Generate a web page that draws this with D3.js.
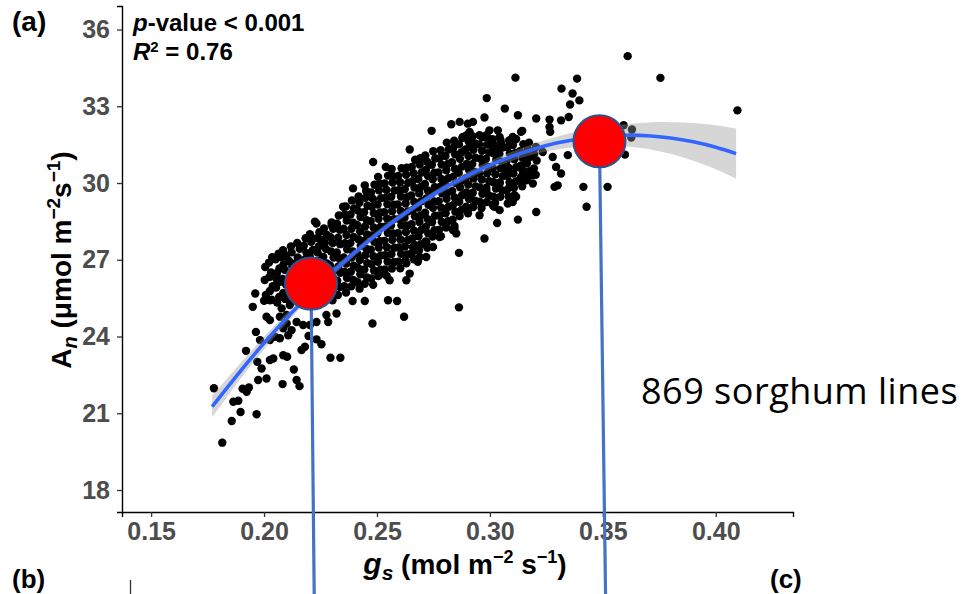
<!DOCTYPE html>
<html>
<head>
<meta charset="utf-8">
<script src="https://cdn.jsdelivr.net/npm/d3@7"></script>
<style>
  html, body { margin: 0; padding: 0; background: #ffffff; }
  svg { display: block; }
</style>
</head>
<body>
<svg id="chart" width="966" height="594"></svg>
<script>
// Axis ticks
const xTicks = [0.15, 0.20, 0.25, 0.30, 0.35, 0.40];
const yTicks = [18, 21, 24, 27, 30, 33, 36];

// Quadratic fit (gs -> An) and half-width of its confidence band
const fitGs  = [0.177, 0.19, 0.20, 0.21, 0.22, 0.23, 0.24, 0.25, 0.26, 0.27, 0.28, 0.29, 0.30, 0.31, 0.32, 0.33, 0.34, 0.35, 0.36, 0.37, 0.38, 0.39, 0.40, 0.409];
const fitAn  = [21.26, 22.70, 23.74, 24.72, 25.63, 26.49, 27.27, 28.00, 28.67, 29.27, 29.81, 30.29, 30.70, 31.05, 31.34, 31.57, 31.73, 31.83, 31.87, 31.85, 31.76, 31.61, 31.40, 31.15];
const ciHalf = [0.42, 0.30, 0.25, 0.20, 0.17, 0.15, 0.13, 0.12, 0.12, 0.12, 0.13, 0.14, 0.16, 0.18, 0.21, 0.25, 0.30, 0.36, 0.43, 0.52, 0.62, 0.74, 0.86, 0.98];

// Sorghum lines: [gs, An] — scattered lines around the cloud
const edgeLines = [
[0.1815,19.85],[0.1857,20.70],[0.1896,21.05],[0.1967,20.96],[0.1864,21.45],[0.1886,21.49],[0.1778,21.98],[0.1905,21.96],
[0.1933,22.01],[0.1923,21.84],[0.1974,22.30],[0.2011,22.36],[0.2082,22.14],[0.2144,22.30],[0.2157,22.06],[0.2132,22.71],
[0.1920,23.44],[0.1964,24.18],[0.1982,23.86],[0.1970,23.01],[0.1989,22.75],[0.2026,23.08],[0.2041,23.14],[0.2085,23.27],
[0.2102,23.21],[0.2166,23.47],[0.2181,23.60],[0.2294,23.17],[0.2338,23.17],[0.2254,23.70],[0.2232,23.89],[0.2197,24.02],
[0.2026,23.86],[0.2048,23.99],[0.2070,23.93],[0.2107,24.05],[0.2122,24.25],[0.2085,24.32],[0.2100,24.51],[0.2026,24.64],
[0.2011,24.77],[0.2070,24.77],[0.2100,24.84],[0.2144,24.57],[0.2173,24.45],[0.2203,24.45],[0.2232,24.57],[0.2284,24.57],
[0.2321,24.90],[0.2276,24.84],[0.2480,24.51],[0.2620,24.77],[0.2549,25.42],[0.2589,25.39],[0.2392,25.39],[0.2446,25.39],
[0.1950,25.16],[0.1961,25.68],[0.2026,25.42],[0.2078,25.10],[0.2114,25.23],[0.2056,26.46],[0.2078,27.09],[0.2070,26.14],
[0.2056,26.23],[0.2203,28.00],[0.2232,28.42],[0.2254,27.77],[0.2299,28.35],[0.2350,29.07],[0.2394,29.79],[0.2446,29.91],
[0.2483,30.82],[0.2539,30.63],[0.2645,31.31],[0.2742,32.04],[0.2829,32.30],[0.2866,32.39],[0.2925,32.39],[0.2880,31.80],
[0.2910,31.41],[0.2863,27.27],[0.2863,25.14],[0.2836,28.16],[0.2851,28.03],[0.2925,29.07],[0.2910,29.39],[0.2748,27.50],
[0.2719,27.70],[0.2689,27.11],[0.2659,27.50],[0.2630,26.20],[0.2645,26.46],[0.2225,28.49],[0.2976,27.83],[0.3124,28.57],
[0.3032,28.44],[0.2954,28.74],[0.3205,28.87],[0.3043,28.94],[0.3013,29.13],[0.3101,29.26],[0.2843,28.22],[0.2777,27.89],
[0.2718,27.11],[0.2630,26.86],[0.2681,26.92],[0.2556,26.20],[0.2527,26.46],[0.2984,29.72],[0.3043,29.98],[0.3131,30.11],
[0.3175,30.37],[0.3190,29.98],[0.3072,30.50],[0.3116,29.46],[0.3057,30.76],[0.3013,31.28],[0.3101,31.80],[0.3043,31.80],
[0.2984,31.87],[0.3138,32.00],[0.3113,34.12],[0.3386,34.08],[0.3317,33.69],[0.3366,33.50],[0.3396,33.23],[0.3355,33.07],
[0.2986,33.32],[0.3066,32.91],[0.3124,32.65],[0.3205,32.52],[0.3264,32.48],[0.3264,32.19],[0.3267,32.00],[0.3315,32.45],
[0.3349,32.58],[0.3143,32.04],[0.2976,32.56],[0.2902,32.32],[0.2910,32.00],[0.2954,31.87],[0.2998,32.06],[0.3035,32.06],
[0.3050,31.54],[0.3043,31.35],[0.2998,31.54],[0.3161,31.09],[0.3234,31.21],[0.3278,31.02],[0.3293,30.63],[0.3315,30.37],
[0.3345,31.09],[0.3145,30.50],[0.3190,30.31],[0.3161,30.11],[0.3109,29.52],[0.3087,29.85],[0.3286,29.85],[0.3300,29.91],
[0.3414,29.85],[0.3521,29.85],[0.3428,29.07],[0.3020,29.07],[0.3610,34.96],[0.3755,34.11],[0.4096,32.84],[0.3592,32.26],
[0.3629,32.09],[0.3626,31.78],[0.3598,31.11],[0.3138,30.24],[0.3183,30.43],[0.3079,29.20]
];

// Sorghum lines: [gs, An] — dense centre of the cloud
const coreLines = [
[0.2000,25.40],[0.2008,25.62],[0.2003,26.21],[0.2005,26.72],
[0.2034,25.44],[0.2026,25.78],[0.2038,25.97],[0.2024,26.33],[0.2031,26.50],[0.2022,26.89],[0.2036,27.10],
[0.2058,25.33],[0.2067,25.55],[0.2053,25.91],[0.2062,26.12],[0.2055,26.47],[0.2068,26.66],[0.2051,27.02],[0.2064,27.24],
[0.2093,25.47],[0.2085,25.70],[0.2097,26.04],[0.2082,26.25],[0.2091,26.61],[0.2086,26.81],[0.2098,27.15],[0.2084,27.37],
[0.2116,25.29],[0.2124,25.62],[0.2113,25.84],[0.2127,26.18],[0.2118,26.40],[0.2125,26.74],[0.2111,26.95],[0.2122,27.29],[0.2119,27.52],
[0.2152,25.42],[0.2144,25.76],[0.2157,25.98],[0.2146,26.31],[0.2155,26.54],[0.2141,26.87],[0.2149,27.09],[0.2158,27.43],[0.2147,27.66],
[0.2183,25.34],[0.2174,25.57],[0.2186,25.88],[0.2177,26.16],[0.2185,26.45],[0.2172,26.69],[0.2181,27.01],[0.2188,27.27],[0.2176,27.55],[0.2184,27.84],
[0.2206,25.46],[0.2215,25.71],[0.2203,26.02],[0.2217,26.26],[0.2208,26.59],[0.2213,26.83],[0.2202,27.14],[0.2216,27.38],[0.2209,27.70],[0.2204,27.93],
[0.2242,25.31],[0.2235,25.60],[0.2247,25.85],[0.2238,26.17],[0.2244,26.41],[0.2233,26.73],[0.2246,26.96],[0.2237,27.28],[0.2243,27.53],[0.2236,27.85],[0.2245,28.08],
[0.2268,25.45],[0.2276,25.74],[0.2264,25.99],[0.2273,26.30],[0.2266,26.55],[0.2278,26.86],[0.2262,27.11],[0.2274,27.42],[0.2269,27.66],[0.2277,27.98],[0.2265,28.22],
[0.2303,25.42],[0.2295,25.66],[0.2307,25.97],[0.2298,26.22],[0.2305,26.53],[0.2292,26.78],[0.2308,27.09],[0.2296,27.33],[0.2304,27.65],[0.2293,27.89],[0.2306,28.21],[0.2299,28.46],
[0.2327,25.62],[0.2336,25.93],[0.2324,26.18],[0.2338,26.49],[0.2329,26.74],[0.2334,27.05],[0.2322,27.29],[0.2337,27.61],[0.2328,27.86],[0.2335,28.17],[0.2323,28.41],[0.2331,28.73],
[0.2363,25.72],[0.2355,25.97],[0.2367,26.29],[0.2356,26.53],[0.2364,26.85],[0.2353,27.09],[0.2368,27.41],[0.2358,27.65],[0.2365,27.97],[0.2352,28.21],[0.2366,28.53],[0.2357,28.77],[0.2362,29.08],
[0.2386,25.96],[0.2395,26.21],[0.2384,26.53],[0.2397,26.77],[0.2388,27.09],[0.2393,27.33],[0.2382,27.65],[0.2396,27.89],[0.2387,28.21],[0.2394,28.45],[0.2383,28.77],[0.2398,29.01],[0.2389,29.32],
[0.2423,25.87],[0.2414,26.12],[0.2426,26.43],[0.2417,26.68],[0.2424,26.99],[0.2413,27.24],[0.2428,27.55],[0.2418,27.80],[0.2425,28.11],[0.2412,28.36],[0.2427,28.67],[0.2416,28.92],[0.2422,29.23],[0.2419,29.48],
[0.2446,26.06],[0.2455,26.31],[0.2444,26.62],[0.2457,26.87],[0.2448,27.18],[0.2453,27.43],[0.2442,27.74],[0.2456,27.99],[0.2447,28.30],[0.2454,28.55],[0.2443,28.86],[0.2458,29.11],[0.2449,29.42],[0.2452,29.69],
[0.2483,26.02],[0.2475,26.27],[0.2487,26.58],[0.2476,26.83],[0.2484,27.14],[0.2473,27.39],[0.2488,27.70],[0.2478,27.95],[0.2485,28.26],[0.2472,28.51],[0.2486,28.82],[0.2477,29.07],[0.2482,29.38],[0.2474,29.63],[0.2489,29.93],
[0.2506,26.36],[0.2515,26.61],[0.2504,26.92],[0.2517,27.17],[0.2508,27.48],[0.2513,27.73],[0.2502,28.04],[0.2516,28.29],[0.2507,28.60],[0.2514,28.85],[0.2503,29.16],[0.2518,29.41],[0.2509,29.72],[0.2512,29.97],[0.2505,30.24],
[0.2543,26.37],[0.2535,26.62],[0.2547,26.93],[0.2536,27.18],[0.2544,27.49],[0.2533,27.74],[0.2548,28.05],[0.2538,28.30],[0.2545,28.61],[0.2532,28.86],[0.2546,29.17],[0.2537,29.42],[0.2542,29.73],[0.2534,29.98],[0.2549,30.29],
[0.2566,26.66],[0.2575,26.91],[0.2564,27.22],[0.2577,27.47],[0.2568,27.78],[0.2573,28.03],[0.2562,28.34],[0.2576,28.59],[0.2567,28.90],[0.2574,29.15],[0.2563,29.46],[0.2578,29.71],[0.2569,30.02],[0.2572,30.27],[0.2565,30.55],
[0.2603,26.67],[0.2595,26.92],[0.2607,27.23],[0.2596,27.48],[0.2604,27.79],[0.2593,28.04],[0.2608,28.35],[0.2598,28.60],[0.2605,28.91],[0.2592,29.16],[0.2606,29.47],[0.2597,29.72],[0.2602,30.03],[0.2594,30.28],[0.2609,30.58],
[0.2626,26.96],[0.2635,27.21],[0.2624,27.52],[0.2637,27.77],[0.2628,28.08],[0.2633,28.33],[0.2622,28.64],[0.2636,28.89],[0.2627,29.20],[0.2634,29.45],[0.2623,29.76],[0.2638,30.01],[0.2629,30.32],[0.2632,30.60],
[0.2663,27.02],[0.2655,27.27],[0.2667,27.58],[0.2656,27.83],[0.2664,28.14],[0.2653,28.39],[0.2668,28.70],[0.2658,28.95],[0.2665,29.26],[0.2652,29.51],[0.2666,29.82],[0.2657,30.07],[0.2662,30.38],[0.2654,30.63],[0.2669,30.91],
[0.2686,27.36],[0.2695,27.61],[0.2684,27.92],[0.2697,28.17],[0.2688,28.48],[0.2693,28.73],[0.2682,29.04],[0.2696,29.29],[0.2687,29.60],[0.2694,29.85],[0.2683,30.16],[0.2698,30.41],[0.2689,30.72],[0.2692,30.97],
[0.2723,27.47],[0.2715,27.72],[0.2727,28.03],[0.2716,28.28],[0.2724,28.59],[0.2713,28.84],[0.2728,29.15],[0.2718,29.40],[0.2725,29.71],[0.2712,29.96],[0.2726,30.27],[0.2717,30.52],[0.2722,30.83],[0.2714,31.08],
[0.2746,27.91],[0.2755,28.16],[0.2744,28.47],[0.2757,28.72],[0.2748,29.03],[0.2753,29.28],[0.2742,29.59],[0.2756,29.84],[0.2747,30.15],[0.2754,30.40],[0.2743,30.71],[0.2758,30.96],[0.2749,31.24],
[0.2783,27.92],[0.2775,28.17],[0.2787,28.48],[0.2776,28.73],[0.2784,29.04],[0.2773,29.29],[0.2788,29.60],[0.2778,29.85],[0.2785,30.16],[0.2772,30.41],[0.2786,30.72],[0.2777,30.97],[0.2782,31.28],
[0.2806,28.26],[0.2815,28.51],[0.2804,28.82],[0.2817,29.07],[0.2808,29.38],[0.2813,29.63],[0.2802,29.94],[0.2816,30.19],[0.2807,30.50],[0.2814,30.75],[0.2803,31.06],[0.2818,31.31],[0.2809,31.58],
[0.2843,28.32],[0.2835,28.57],[0.2847,28.88],[0.2836,29.13],[0.2844,29.44],[0.2833,29.69],[0.2848,30.00],[0.2838,30.25],[0.2845,30.56],[0.2832,30.81],[0.2846,31.12],[0.2837,31.37],[0.2842,31.65],
[0.2866,28.71],[0.2875,28.96],[0.2864,29.27],[0.2877,29.52],[0.2868,29.83],[0.2873,30.08],[0.2862,30.39],[0.2876,30.64],[0.2867,30.95],[0.2874,31.20],[0.2863,31.51],[0.2878,31.76],
[0.2903,28.82],[0.2895,29.07],[0.2907,29.38],[0.2896,29.63],[0.2904,29.94],[0.2893,30.19],[0.2908,30.50],[0.2898,30.75],[0.2905,31.06],[0.2892,31.31],[0.2906,31.62],[0.2897,31.87],
[0.2926,29.06],[0.2935,29.31],[0.2924,29.62],[0.2937,29.87],[0.2928,30.18],[0.2933,30.43],[0.2922,30.74],[0.2936,30.99],[0.2927,31.30],[0.2934,31.55],[0.2923,31.83],
[0.2963,29.02],[0.2955,29.27],[0.2967,29.58],[0.2956,29.83],[0.2964,30.14],[0.2953,30.39],[0.2968,30.70],[0.2958,30.95],[0.2965,31.26],[0.2952,31.51],[0.2966,31.79],
[0.2986,29.26],[0.2995,29.51],[0.2984,29.82],[0.2997,30.07],[0.2988,30.38],[0.2993,30.63],[0.2982,30.94],[0.2996,31.19],[0.2987,31.50],[0.2994,31.74],
[0.3023,29.22],[0.3015,29.47],[0.3027,29.78],[0.3016,30.03],[0.3024,30.34],[0.3013,30.59],[0.3028,30.90],[0.3018,31.15],[0.3025,31.46],[0.3012,31.71],
[0.3046,29.46],[0.3055,29.71],[0.3044,30.02],[0.3057,30.27],[0.3048,30.58],[0.3053,30.83],[0.3042,31.14],[0.3056,31.39],[0.3047,31.67],
[0.3083,29.47],[0.3075,29.72],[0.3087,30.03],[0.3076,30.28],[0.3084,30.59],[0.3073,30.84],[0.3088,31.15],[0.3078,31.40],[0.3085,31.66],
[0.3106,29.81],[0.3115,30.06],[0.3104,30.37],[0.3117,30.62],[0.3108,30.93],[0.3113,31.18],[0.3102,31.49],[0.3116,31.72],
[0.3143,29.87],[0.3135,30.12],[0.3147,30.43],[0.3136,30.68],[0.3144,30.99],[0.3133,31.24],[0.3148,31.52],
[0.3166,30.21],[0.3175,30.46],[0.3164,30.77],[0.3177,31.02],[0.3168,31.33],[0.3173,31.58],
[0.3203,30.32],[0.3195,30.57],[0.3207,30.88],[0.3196,31.13],[0.3204,31.41]
];

// Highlighted lines (red markers) and where their drop lines end
const highlightGs = [0.2208, 0.3485];
const highlightAn = [26.07, 31.63];
const dropFootGs  = [0.2222, 0.3512];

const svg = d3.select("#chart");
const W = 966, H = 594;

const x = d3.scaleLinear().domain([0.1371, 0.4342]).range([122, 793]);
const y = d3.scaleLinear().domain([17.14, 36.92]).range([512, 6]);

const FONT = "'Liberation Sans', Arial, Helvetica, sans-serif";

// ---- points ----
const allLines = edgeLines.concat(coreLines);
svg.append("g")
  .selectAll("circle")
  .data(allLines)
  .join("circle")
  .attr("cx", d => x(d[0]))
  .attr("cy", d => y(d[1]))
  .attr("r", 4.2)
  .attr("fill", "#000000");

// ---- confidence band + fitted curve ----
const fit = fitGs.map((g, i) => ({ g, a: fitAn[i], h: ciHalf[i] }));
svg.append("path")
  .datum(fit)
  .attr("d", d3.area()
    .x(d => x(d.g))
    .y0(d => y(d.a - d.h))
    .y1(d => y(d.a + d.h))
    .curve(d3.curveNatural))
  .attr("fill", "#999999")
  .attr("fill-opacity", 0.4);

svg.append("path")
  .datum(fit)
  .attr("d", d3.line()
    .x(d => x(d.g))
    .y(d => y(d.a))
    .curve(d3.curveNatural))
  .attr("fill", "none")
  .attr("stroke", "#3366FF")
  .attr("stroke-width", 3.6);

// ---- axes ----
const xAxis = d3.axisBottom(x).tickValues(xTicks).tickFormat(d3.format(".2f")).tickSizeOuter(0).tickSize(5).tickPadding(5);
const yAxis = d3.axisLeft(y).tickValues(yTicks).tickFormat(d3.format("d")).tickSizeOuter(0).tickSize(5).tickPadding(7);

const gx = svg.append("g").attr("transform", "translate(0,512)").call(xAxis);
const gy = svg.append("g").attr("transform", "translate(122,0)").call(yAxis);

[gx, gy].forEach(g => {
  g.select(".domain").attr("stroke", "#000").attr("stroke-width", 1.4);
  g.selectAll(".tick line").attr("stroke", "#333").attr("stroke-width", 1.3);
  g.selectAll(".tick text")
    .attr("fill", "#4D4D4D")
    .attr("font-family", FONT)
    .attr("font-weight", "bold")
    .attr("font-size", 25);
});

// ---- axis titles ----
const yTitle = svg.append("text")
  .attr("transform", "translate(71,260) rotate(-90)")
  .attr("text-anchor", "middle")
  .attr("font-family", FONT)
  .attr("font-weight", "bold")
  .attr("font-size", 28)
  .attr("fill", "#000");
yTitle.append("tspan").text("A");
yTitle.append("tspan").attr("font-style", "italic").attr("font-size", 20).attr("dy", 6).text("n");
yTitle.append("tspan").attr("dy", -6).text(" (μmol m");
yTitle.append("tspan").attr("font-size", 19).attr("dy", -11).text("−2");
yTitle.append("tspan").attr("dy", 11).text("s");
yTitle.append("tspan").attr("font-size", 19).attr("dy", -11).text("−1");
yTitle.append("tspan").attr("dy", 11).text(")");

const xTitle = svg.append("text")
  .attr("x", 465).attr("y", 574)
  .attr("text-anchor", "middle")
  .attr("font-family", FONT)
  .attr("font-weight", "bold")
  .attr("font-size", 28)
  .attr("fill", "#000");
xTitle.append("tspan").attr("font-style", "italic").attr("font-size", 30).text("g");
xTitle.append("tspan").attr("font-style", "italic").attr("font-size", 21).attr("dy", 6).text("s");
xTitle.append("tspan").attr("dy", -6).text(" (mol m");
xTitle.append("tspan").attr("font-size", 18).attr("dy", -11).text("−2");
xTitle.append("tspan").attr("dy", 11).text(" s");
xTitle.append("tspan").attr("font-size", 18).attr("dy", -11).text("−1");
xTitle.append("tspan").attr("dy", 11).text(")");

// ---- statistics ----
const stat1 = svg.append("text").attr("x", 133).attr("y", 31)
  .attr("font-family", FONT).attr("font-weight", "bold").attr("font-size", 24).attr("fill", "#000");
stat1.append("tspan").attr("font-style", "italic").text("p");
stat1.append("tspan").text("-value < 0.001");

const stat2 = svg.append("text").attr("x", 133).attr("y", 60)
  .attr("font-family", FONT).attr("font-weight", "bold").attr("font-size", 24).attr("fill", "#000");
stat2.append("tspan").attr("font-style", "italic").text("R");
stat2.append("tspan").attr("font-size", 15).attr("dy", -8).text("2");
stat2.append("tspan").attr("dy", 8).text(" = 0.76");

// ---- panel tags ----
svg.append("text").attr("x", 12).attr("y", 31)
  .attr("font-family", FONT).attr("font-weight", "bold").attr("font-size", 28).attr("fill", "#000").text("(a)");
svg.append("text").attr("x", 12).attr("y", 588)
  .attr("font-family", FONT).attr("font-weight", "bold").attr("font-size", 26).attr("fill", "#000").text("(b)");
svg.append("text").attr("x", 770).attr("y", 588)
  .attr("font-family", FONT).attr("font-weight", "bold").attr("font-size", 26).attr("fill", "#000").text("(c)");
svg.append("line").attr("x1", 130.5).attr("x2", 130.5).attr("y1", 580).attr("y2", 594)
  .attr("stroke", "#333").attr("stroke-width", 1.3);

// ---- highlighted lines: drop lines and red markers ----
const hl = highlightGs.map((g, i) => ({ g, a: highlightAn[i], foot: dropFootGs[i] }));
svg.append("g").selectAll("line")
  .data(hl)
  .join("line")
  .attr("x1", d => x(d.g)).attr("y1", d => y(d.a))
  .attr("x2", d => x(d.foot)).attr("y2", H)
  .attr("stroke", "#4472C4")
  .attr("stroke-width", 3.2);

svg.append("g").selectAll("circle")
  .data(hl)
  .join("circle")
  .attr("cx", d => x(d.g)).attr("cy", d => y(d.a))
  .attr("r", 26)
  .attr("fill", "#FF0000")
  .attr("stroke", "#2F528F")
  .attr("stroke-width", 2);

// ---- sample size note ----
svg.append("text").attr("x", 641).attr("y", 404)
  .attr("font-family", "'Open Sans', Lato, sans-serif")
  .attr("font-size", 36)
  .attr("letter-spacing", 0.5)
  .attr("fill", "#000")
  .text("869 sorghum lines");
</script>
</body>
</html>
